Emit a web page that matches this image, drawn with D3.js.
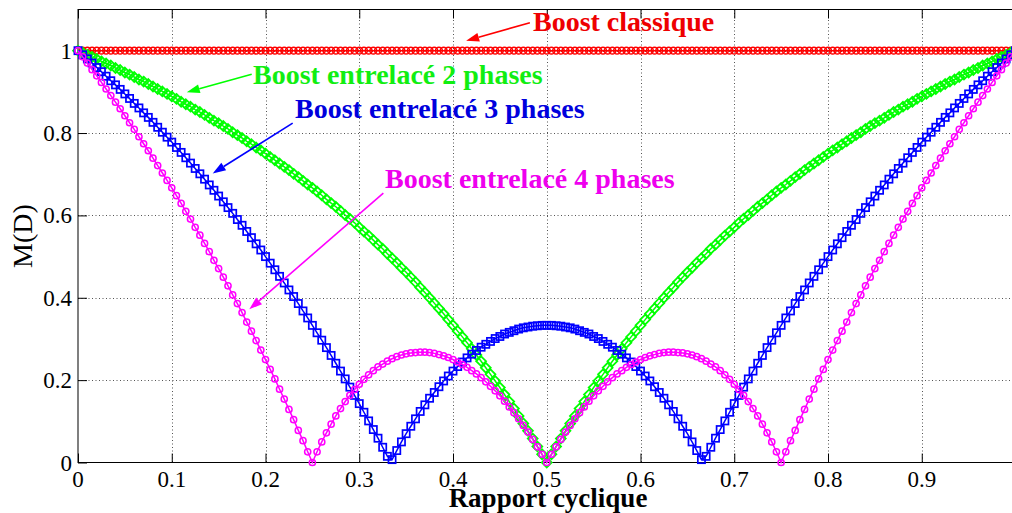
<!DOCTYPE html>
<html>
<head>
<meta charset="utf-8">
<script src="https://cdn.jsdelivr.net/npm/d3@7/dist/d3.min.js"></script>
<style>
  html, body { margin: 0; padding: 0; background: #fff; }
  svg { display: block; }
  .serif { font-family: "Liberation Serif", "Times New Roman", serif; }
</style>
</head>
<body>
<script>
// ---------------- DATA ----------------
// Duty-cycle sample grid: 0 .. 1, step 0.005 (201 samples)
const dutyCycle = d3.range(201).map(i => i / 200);

// Boost classique (constant)
const boostClassique = [
  1,1,1,1,1,1,1,1,1,1,1,1,1,1,1,1,1,1,1,1,
  1,1,1,1,1,1,1,1,1,1,1,1,1,1,1,1,1,1,1,1,
  1,1,1,1,1,1,1,1,1,1,1,1,1,1,1,1,1,1,1,1,
  1,1,1,1,1,1,1,1,1,1,1,1,1,1,1,1,1,1,1,1,
  1,1,1,1,1,1,1,1,1,1,1,1,1,1,1,1,1,1,1,1,
  1,1,1,1,1,1,1,1,1,1,1,1,1,1,1,1,1,1,1,1,
  1,1,1,1,1,1,1,1,1,1,1,1,1,1,1,1,1,1,1,1,
  1,1,1,1,1,1,1,1,1,1,1,1,1,1,1,1,1,1,1,1,
  1,1,1,1,1,1,1,1,1,1,1,1,1,1,1,1,1,1,1,1,
  1,1,1,1,1,1,1,1,1,1,1,1,1,1,1,1,1,1,1,1,
  1
];

// Boost entrelacé 2 phases
const boost2Phases = [
  1, 0.995, 0.990, 0.985, 0.980, 0.974, 0.969, 0.964, 0.958, 0.953,
  0.947, 0.942, 0.936, 0.930, 0.925, 0.919, 0.913, 0.907, 0.901, 0.895,
  0.889, 0.883, 0.876, 0.870, 0.864, 0.857, 0.851, 0.844, 0.837, 0.830,
  0.824, 0.817, 0.810, 0.802, 0.795, 0.788, 0.780, 0.773, 0.765, 0.758,
  0.750, 0.742, 0.734, 0.726, 0.718, 0.710, 0.701, 0.693, 0.684, 0.675,
  0.667, 0.658, 0.649, 0.639, 0.630, 0.621, 0.611, 0.601, 0.592, 0.582,
  0.571, 0.561, 0.551, 0.540, 0.529, 0.519, 0.507, 0.496, 0.485, 0.473,
  0.462, 0.450, 0.438, 0.425, 0.413, 0.400, 0.387, 0.374, 0.361, 0.347,
  0.333, 0.319, 0.305, 0.291, 0.276, 0.261, 0.246, 0.230, 0.214, 0.198,
  0.182, 0.165, 0.148, 0.131, 0.113, 0.095, 0.077, 0.058, 0.039, 0.020,
  0,
  0.020, 0.039, 0.058, 0.077, 0.095, 0.113, 0.131, 0.148, 0.165, 0.182,
  0.198, 0.214, 0.230, 0.246, 0.261, 0.276, 0.291, 0.305, 0.319, 0.333,
  0.347, 0.361, 0.374, 0.387, 0.400, 0.413, 0.425, 0.438, 0.450, 0.462,
  0.473, 0.485, 0.496, 0.507, 0.519, 0.529, 0.540, 0.551, 0.561, 0.571,
  0.582, 0.592, 0.601, 0.611, 0.621, 0.630, 0.639, 0.649, 0.658, 0.667,
  0.675, 0.684, 0.693, 0.701, 0.710, 0.718, 0.726, 0.734, 0.742, 0.750,
  0.758, 0.765, 0.773, 0.780, 0.788, 0.795, 0.802, 0.810, 0.817, 0.824,
  0.830, 0.837, 0.844, 0.851, 0.857, 0.864, 0.870, 0.876, 0.883, 0.889,
  0.895, 0.901, 0.907, 0.913, 0.919, 0.925, 0.930, 0.936, 0.942, 0.947,
  0.953, 0.958, 0.964, 0.969, 0.974, 0.980, 0.985, 0.990, 0.995, 1
];

// Boost entrelacé 3 phases
const boost3Phases = [
  1, 0.990, 0.980, 0.970, 0.959, 0.949, 0.938, 0.927, 0.917, 0.906,
  0.895, 0.884, 0.872, 0.861, 0.849, 0.838, 0.826, 0.814, 0.802, 0.790,
  0.778, 0.765, 0.753, 0.740, 0.727, 0.714, 0.701, 0.688, 0.674, 0.661,
  0.647, 0.633, 0.619, 0.605, 0.590, 0.576, 0.561, 0.546, 0.531, 0.516,
  0.500, 0.484, 0.468, 0.452, 0.436, 0.419, 0.403, 0.386, 0.368, 0.351,
  0.333, 0.315, 0.297, 0.279, 0.260, 0.241, 0.222, 0.203, 0.183, 0.163,
  0.143, 0.122, 0.101, 0.080, 0.059, 0.037, 0.015, 0.007, 0.029, 0.050,
  0.070, 0.088, 0.106, 0.124, 0.140, 0.156, 0.170, 0.184, 0.198, 0.210,
  0.222, 0.233, 0.244, 0.254, 0.263, 0.272, 0.280, 0.287, 0.294, 0.301,
  0.306, 0.312, 0.316, 0.320, 0.324, 0.327, 0.329, 0.331, 0.332, 0.333,
  0.333,
  0.333, 0.332, 0.331, 0.329, 0.327, 0.324, 0.320, 0.316, 0.312, 0.306,
  0.301, 0.294, 0.287, 0.280, 0.272, 0.263, 0.254, 0.244, 0.233, 0.222,
  0.210, 0.198, 0.184, 0.170, 0.156, 0.140, 0.124, 0.106, 0.088, 0.070,
  0.050, 0.029, 0.007, 0.015, 0.037, 0.059, 0.080, 0.101, 0.122, 0.143,
  0.163, 0.183, 0.203, 0.222, 0.241, 0.260, 0.279, 0.297, 0.315, 0.333,
  0.351, 0.368, 0.386, 0.403, 0.419, 0.436, 0.452, 0.468, 0.484, 0.500,
  0.516, 0.531, 0.546, 0.561, 0.576, 0.590, 0.605, 0.619, 0.633, 0.647,
  0.661, 0.674, 0.688, 0.701, 0.714, 0.727, 0.740, 0.753, 0.765, 0.778,
  0.790, 0.802, 0.814, 0.826, 0.838, 0.849, 0.861, 0.872, 0.884, 0.895,
  0.906, 0.917, 0.927, 0.938, 0.949, 0.959, 0.970, 0.980, 0.990, 1
];

// Boost entrelacé 4 phases
const boost4Phases = [
  1, 0.985, 0.970, 0.954, 0.939, 0.923, 0.907, 0.891, 0.875, 0.859,
  0.842, 0.825, 0.809, 0.791, 0.774, 0.757, 0.739, 0.721, 0.703, 0.685,
  0.667, 0.648, 0.629, 0.610, 0.591, 0.571, 0.552, 0.532, 0.512, 0.491,
  0.471, 0.450, 0.429, 0.407, 0.386, 0.364, 0.341, 0.319, 0.296, 0.273,
  0.250, 0.226, 0.203, 0.178, 0.154, 0.129, 0.104, 0.078, 0.053, 0.026,
  0, 0.026, 0.050, 0.072, 0.093, 0.113, 0.131, 0.148, 0.163, 0.177,
  0.190, 0.202, 0.213, 0.223, 0.232, 0.239, 0.246, 0.252, 0.257, 0.261,
  0.264, 0.266, 0.267, 0.268, 0.268, 0.267, 0.265, 0.262, 0.259, 0.255,
  0.250, 0.244, 0.238, 0.231, 0.223, 0.215, 0.206, 0.196, 0.185, 0.174,
  0.162, 0.149, 0.135, 0.121, 0.106, 0.090, 0.074, 0.056, 0.038, 0.020,
  0,
  0.020, 0.038, 0.056, 0.074, 0.090, 0.106, 0.121, 0.135, 0.149, 0.162,
  0.174, 0.185, 0.196, 0.206, 0.215, 0.223, 0.231, 0.238, 0.244, 0.250,
  0.255, 0.259, 0.262, 0.265, 0.267, 0.268, 0.268, 0.267, 0.266, 0.264,
  0.261, 0.257, 0.252, 0.246, 0.239, 0.232, 0.223, 0.213, 0.202, 0.190,
  0.177, 0.163, 0.148, 0.131, 0.113, 0.093, 0.072, 0.050, 0.026, 0,
  0.026, 0.053, 0.078, 0.104, 0.129, 0.154, 0.178, 0.203, 0.226, 0.250,
  0.273, 0.296, 0.319, 0.341, 0.364, 0.386, 0.407, 0.429, 0.450, 0.471,
  0.491, 0.512, 0.532, 0.552, 0.571, 0.591, 0.610, 0.629, 0.648, 0.667,
  0.685, 0.703, 0.721, 0.739, 0.757, 0.774, 0.791, 0.809, 0.825, 0.842,
  0.859, 0.875, 0.891, 0.907, 0.923, 0.939, 0.954, 0.970, 0.985, 1
];

// Tick values and labels (the "1" at x = 1 falls outside the picture in the reference)
const xTickValues = [0, 0.1, 0.2, 0.3, 0.4, 0.5, 0.6, 0.7, 0.8, 0.9, 1];
const xTickLabels = ["0", "0.1", "0.2", "0.3", "0.4", "0.5", "0.6", "0.7", "0.8", "0.9", ""];
const yTickValues = [0, 0.2, 0.4, 0.6, 0.8, 1];
const yTickLabels = ["0", "0.2", "0.4", "0.6", "0.8", "1"];

// Annotation texts (baseline-left anchor in data coordinates)
const annotationTexts = ["Boost classique", "Boost entrelacé 2 phases", "Boost entrelacé 3 phases", "Boost entrelacé 4 phases"];
const annotationTextPos = [[0.4853, 1.0466], [0.1867, 0.919], [0.2315, 0.8354], [0.3275, 0.6654]];
const arrowFrom = [[0.482, 1.068], [0.1853, 0.943], [0.229, 0.824], [0.3257, 0.654]];
const arrowTo   = [[0.414, 1.024], [0.116, 0.899], [0.1437, 0.702], [0.1827, 0.372]];

// ---------------- CHART ----------------
const W = 1012, H = 513;
const svg = d3.select("body").append("svg").attr("width", W).attr("height", H)
  .style("background", "#fff");

const x = d3.scaleLinear().domain([0, 1]).range([78, 1015.5]);
const y = d3.scaleLinear().domain([0, 1.1]).range([462.5, 9.5]);

const colors = { red: "#ff0000", green: "#00ff00", blue: "#0000ff", magenta: "#ff00ff" };
const textColors = ["#ee0000", "#11ee11", "#0000dd", "#ee00ee"];
const series = [
  { values: boostClassique, color: colors.red, marker: "circle", size: 3.4, sw: 1.5 },
  { values: boost2Phases, color: colors.green, marker: "diamond", size: 4.9, sw: 1.8 },
  { values: boost3Phases, color: colors.blue, marker: "square", size: 3.6, sw: 1.7 },
  { values: boost4Phases, color: colors.magenta, marker: "circle", size: 3.1, sw: 1.5 }
];

// Grid (dotted)
const grid = svg.append("g").attr("stroke", "#555").attr("stroke-width", 1).attr("stroke-dasharray", "1,2.5");
grid.selectAll("line.gx").data(xTickValues.filter(v => v > 0)).join("line")
  .attr("x1", d => Math.round(x(d)) + 0.5).attr("x2", d => Math.round(x(d)) + 0.5)
  .attr("y1", y(1.1)).attr("y2", y(0));
grid.selectAll("line.gy").data(yTickValues.filter(v => v > 0)).join("line")
  .attr("y1", d => Math.round(y(d)) + 0.5).attr("y2", d => Math.round(y(d)) + 0.5)
  .attr("x1", x(0)).attr("x2", x(1));

// Axes (ticks only, labels drawn below)
const xAxis = svg.append("g").attr("transform", `translate(0,${y(0)})`)
  .call(d3.axisBottom(x).tickValues(xTickValues).tickFormat(() => "")
    .tickSizeInner(-9).tickSizeOuter(0));
const xAxisTop = svg.append("g").attr("transform", `translate(0,${y(1.1)})`)
  .call(d3.axisTop(x).tickValues(xTickValues).tickFormat(() => "")
    .tickSizeInner(-9).tickSizeOuter(0));
const yAxis = svg.append("g").attr("transform", `translate(${x(0)},0)`)
  .call(d3.axisLeft(y).tickValues(yTickValues).tickFormat(() => "")
    .tickSizeInner(-9).tickSizeOuter(0));
[xAxis, xAxisTop, yAxis].forEach(g => {
  g.select(".domain").remove();
  g.selectAll(".tick line").attr("stroke", "#000");
  g.selectAll(".tick text").remove();
});

// Tick labels
svg.append("g").selectAll("text").data(xTickValues).join("text")
  .attr("class", "serif")
  .attr("x", d => x(d)).attr("y", y(0) + 24)
  .attr("text-anchor", "middle").attr("font-size", 23).attr("fill", "#000")
  .text((d, i) => xTickLabels[i]);
svg.append("g").selectAll("text").data(yTickValues).join("text")
  .attr("class", "serif")
  .attr("x", x(0) - 6).attr("y", d => y(d) + 8)
  .attr("text-anchor", "end").attr("font-size", 23).attr("fill", "#000")
  .text((d, i) => yTickLabels[i]);

// Frame
svg.append("rect")
  .attr("x", x(0)).attr("y", y(1.1))
  .attr("width", x(1) - x(0)).attr("height", y(0) - y(1.1))
  .attr("fill", "none").attr("stroke", "#000").attr("stroke-width", 1);

// Series lines + markers
const line = d3.line().x((d, i) => x(dutyCycle[i])).y(d => y(d));
series.forEach(s => {
  const g = svg.append("g");
  g.append("path").datum(s.values).attr("d", line)
    .attr("fill", "none").attr("stroke", s.color).attr("stroke-width", 1.5);
  const pts = s.values.map((v, i) => [x(dutyCycle[i]), y(v)]);
  if (s.marker === "circle") {
    g.selectAll("circle").data(pts).join("circle")
      .attr("cx", d => d[0]).attr("cy", d => d[1]).attr("r", s.size)
      .attr("fill", "none").attr("stroke", s.color).attr("stroke-width", s.sw);
  } else if (s.marker === "square") {
    g.selectAll("rect").data(pts).join("rect")
      .attr("x", d => d[0] - s.size).attr("y", d => d[1] - s.size)
      .attr("width", 2 * s.size).attr("height", 2 * s.size)
      .attr("fill", "none").attr("stroke", s.color).attr("stroke-width", s.sw);
  } else {
    const r = s.size;
    g.selectAll("path.m").data(pts).join("path").attr("class", "m")
      .attr("d", d => `M${d[0]},${d[1] - r}L${d[0] + r},${d[1]}L${d[0]},${d[1] + r}L${d[0] - r},${d[1]}Z`)
      .attr("fill", "none").attr("stroke", s.color).attr("stroke-width", s.sw);
  }
});

// Annotations: arrows + labels
const annColors = [colors.red, colors.green, colors.blue, colors.magenta];
annotationTexts.forEach((t, k) => {
  const x0 = x(arrowFrom[k][0]), y0 = y(arrowFrom[k][1]);
  const x1 = x(arrowTo[k][0]), y1 = y(arrowTo[k][1]);
  const ang = Math.atan2(y1 - y0, x1 - x0);
  const L = 13, hw = 4.5;
  const bx = x1 - L * Math.cos(ang), by = y1 - L * Math.sin(ang);
  svg.append("line").attr("x1", x0).attr("y1", y0).attr("x2", bx).attr("y2", by)
    .attr("stroke", annColors[k]).attr("stroke-width", 1.6);
  svg.append("polygon")
    .attr("points", [
      [x1, y1],
      [bx + hw * Math.sin(ang), by - hw * Math.cos(ang)],
      [bx - hw * Math.sin(ang), by + hw * Math.cos(ang)]
    ].map(p => p.join(",")).join(" "))
    .attr("fill", annColors[k]);
  svg.append("text").attr("class", "serif")
    .attr("x", x(annotationTextPos[k][0])).attr("y", y(annotationTextPos[k][1]))
    .attr("font-weight", "bold").attr("font-size", 28)
    .attr("fill", textColors[k]).text(t);
});

// Axis titles
svg.append("text").attr("class", "serif")
  .attr("transform", `translate(32,${(y(0) + y(1.1)) / 2}) rotate(-90)`)
  .attr("text-anchor", "middle")
  .attr("font-size", 28).attr("fill", "#000")
  .text("M(D)");
svg.append("text").attr("class", "serif")
  .attr("x", 548).attr("y", 507)
  .attr("text-anchor", "middle")
  .attr("font-weight", "bold").attr("font-size", 27).attr("fill", "#000")
  .text("Rapport cyclique");
</script>
</body>
</html>
